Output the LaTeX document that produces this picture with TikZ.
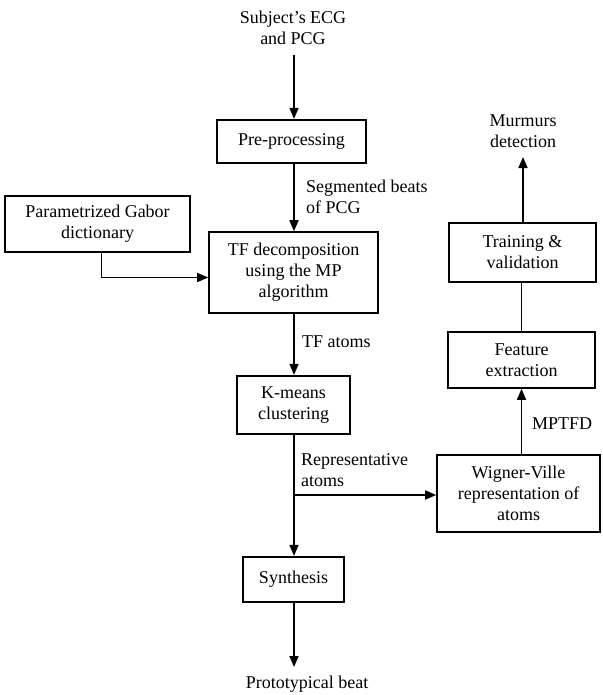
\documentclass[tikz,border=0pt]{standalone}
\usepackage{fontspec}
\setmainfont{Liberation Serif}
\newfontfamily\tms{Liberation Serif}
\usetikzlibrary{arrows.meta}
\begin{document}
\begin{tikzpicture}[x=1pt,y=-1pt,
  every node/.style={font=\tms\fontsize{18}{21}\selectfont, align=center, inner sep=0pt},
  thickbox/.style={draw, line width=2.3pt},
  thinbox/.style={draw, line width=1.6pt},
  lbl/.style={align=left, anchor=west},
  conn/.style={line width=1.6pt},
  arr/.style={conn, -{Triangle[length=11pt,width=9pt]}}]
\useasboundingbox (0,0) rectangle (602,695);
\coordinate (t) at (294,0);
% nodes
\node (subj) at (293,28) {Subject’s ECG\\and PCG};
\coordinate (subjend) at (294,55);
\node[thickbox, minimum width=149, minimum height=43] (pre) at (291.5,141.5) {Pre-processing};
\node[thinbox, minimum width=185, minimum height=56] (gab) at (97.5,224) {Parametrized Gabor\\dictionary};
\node[thinbox, minimum width=169, minimum height=81] (tf) at (293.5,272.5) {TF decomposition\\using the MP\\algorithm};
\node[thickbox, minimum width=113, minimum height=58] (km) at (293.5,405) {K-means\\clustering};
\node[thickbox, minimum width=101, minimum height=45] (syn) at (293.5,579.5) {Synthesis};
\node (proto) at (307,684) {Prototypical beat};
\coordinate (protoend) at (294,667);
\node[thinbox, minimum width=163, minimum height=77] (wig) at (518.5,493.5) {Wigner-Ville\\representation of\\atoms};
\node[thinbox, minimum width=147, minimum height=56] (feat) at (521.5,360) {Feature\\extraction};
\node[thickbox, minimum width=147, minimum height=59] (train) at (522.5,252.5) {Training \&\\validation};
\node (murm) at (523,131) {Murmurs\\detection};
\coordinate (murmend) at (523,157);
% labels
\node[lbl] (lseg) at (306,197) {Segmented beats\\of PCG};
\node[lbl] (ltf) at (302,342) {TF atoms};
\node[lbl] (lrep) at (301,470) {Representative\\atoms};
\node[lbl] (lmp) at (532,424) {MPTFD};
% connectors
\draw[arr] (subjend) -- (pre.north -| t);
\draw[arr] (pre.south -| t) -- (tf.north -| t);
\draw[arr] ([xshift=4pt]gab.south) |- ([yshift=-5pt]tf.west);
\draw[arr] (tf.south -| t) -- (km.north -| t);
\draw[arr] (km.south -| t) -- (syn.north -| t);
\coordinate (br) at (294,495);
\draw[arr] (br) -- (br -| wig.west);
\draw[arr] (syn.south -| t) -- (protoend);
\draw[arr] (wig.north -| feat.south) -- (feat.south);
\draw[conn] (feat.north) -- (feat.north |- train.south);
\draw[arr] (train.north -| murmend) -- (murmend);
\end{tikzpicture}
\end{document}
